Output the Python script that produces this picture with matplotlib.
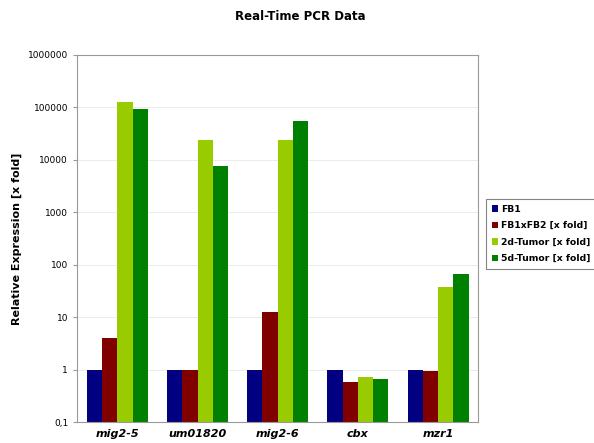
import matplotlib.pyplot as plt
import numpy as np

genes = ["mig2-5", "um01820", "mig2-6", "cbx", "mzr1"]
series = ["FB1", "FB1xFB2 [x fold]", "2d-Tumor [x fold]", "5d-Tumor [x fold]"]
fb1 = [1, 1, 1, 1, 1]
fb1xfb2 = [4.1, 1.0, 12.5, 0.58, 0.95]
tumor2d = [125000, 24000, 24000, 0.72, 38]
tumor5d = [95000, 7800, 54000, 0.66, 66]
colors = ["#000080", "#800000", "#99cc00", "#008000"]

fig = plt.figure(figsize=(5.94, 4.43), dpi=100)
ax = fig.add_axes([0.130, 0.047, 0.675, 0.829])

x = np.arange(len(genes))
w = 0.19
for i, (vals, c, name) in enumerate(zip([fb1, fb1xfb2, tumor2d, tumor5d], colors, series)):
    ax.bar(x + (i - 1.5) * w, vals, w, color=c, label=name, zorder=2)

ax.set_yscale("log")
ax.set_ylim(0.1, 1e6)
ax.set_xlim(-0.5, 4.5)
ticks = [0.1, 1, 10, 100, 1000, 10000, 100000, 1000000]
ax.set_yticks(ticks)
ax.set_yticklabels(["0,1", "1", "10", "100", "1000", "10000", "100000", "1000000"], fontsize=6.5)
ax.minorticks_off()
ax.yaxis.grid(True, color="#e8e8e8", linewidth=0.6, zorder=0)
ax.set_xticks(x)
ax.set_xticklabels(genes, fontsize=8, fontweight="bold", style="italic")
ax.tick_params(axis="x", length=0, pad=5)
ax.tick_params(axis="y", length=3, color="#999999")
for s in ax.spines.values():
    s.set_color("#999999")
ax.set_ylabel("Relative Expression [x fold]", fontsize=8, fontweight="bold", labelpad=4)

fig.text(0.505, 0.962, "Real-Time PCR Data", ha="center", va="center", fontsize=8.5, fontweight="bold")

leg = ax.legend(loc="center left", bbox_to_anchor=(0.811, 0.472), bbox_transform=fig.transFigure,
                prop={"weight": "bold", "size": 6.7}, frameon=True, fancybox=False,
                handlelength=0.7, handleheight=0.7, handletextpad=0.3, borderpad=0.6, labelspacing=0.8)
leg.get_frame().set_edgecolor("#666666")
leg.get_frame().set_linewidth(0.8)

fig.savefig("out.png", dpi=100)
